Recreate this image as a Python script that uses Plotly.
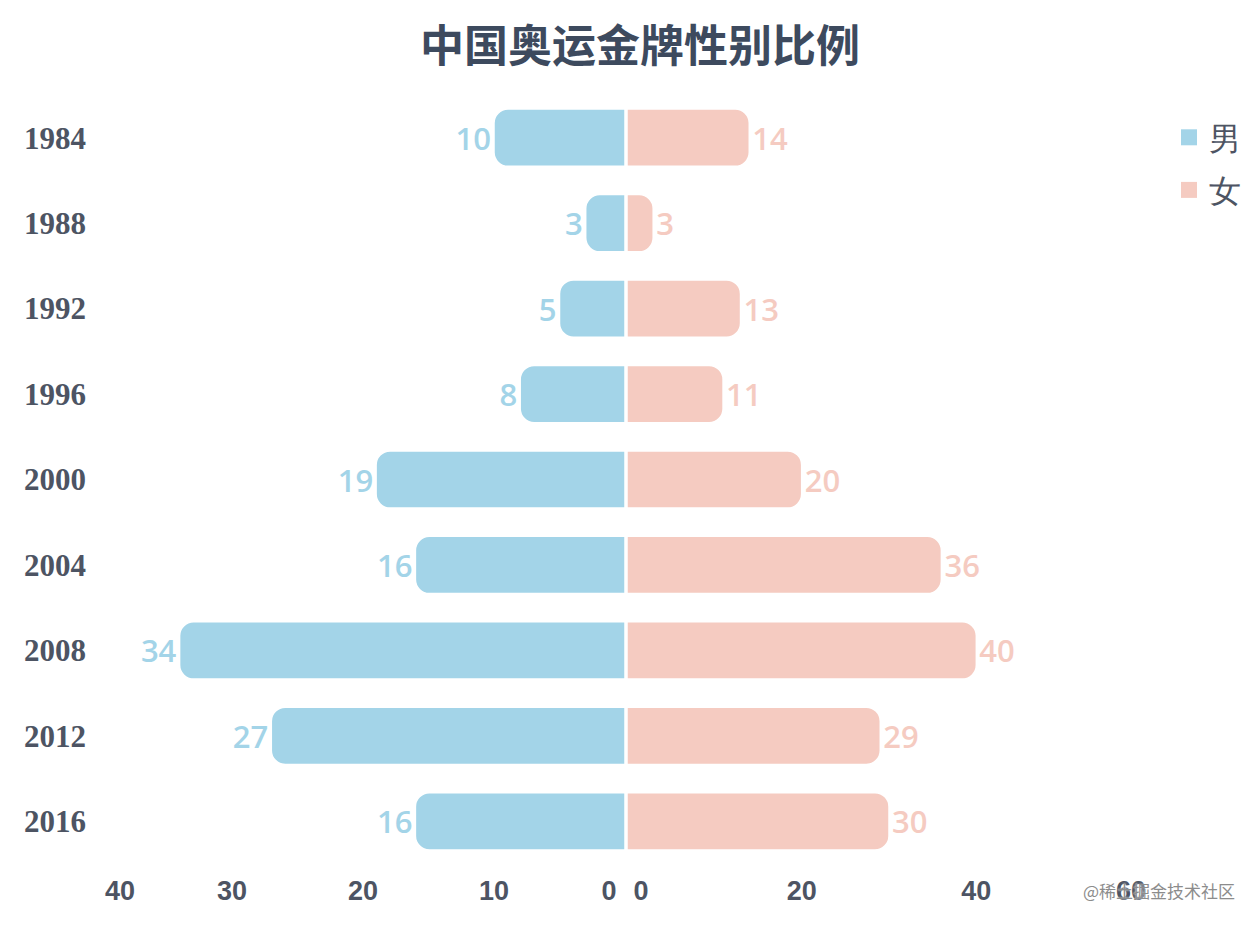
"""
China Olympic gold medals by gender, mirrored horizontal bars.
"""

import plotly.graph_objects as go

# Data
years = ["1984", "1988", "1992", "1996", "2000", "2004", "2008", "2012", "2016"]
male_gold = [10, 3, 5, 8, 19, 16, 34, 27, 16]
female_gold = [14, 3, 13, 11, 20, 36, 40, 29, 30]

left_ticks = [0, 10, 20, 30, 40]
right_ticks = [0, 20, 40, 60]

THEME = {
    "male": "#a3d4e8",
    "female": "#f5cbc1",
    "text": "#4d5463",
    "title": "#3d4a5e",
    "watermark": "#8c8c8c",
}

W, H = 1260, 928
OFF = 8  # page body margin, the figure is drawn 8px in from the corner


def px_x(px):
    return (px - OFF) / W


def px_y(px):
    return 1 - (px - OFF) / H


# plot-area boxes, in screen pixels
LEFT_DOM = [px_x(101), px_x(625)]
RIGHT_DOM = [px_x(627), px_x(1151)]
Y_DOM = [px_y(864), px_y(95)]


def nudge(ticks, span, lo_px, hi_px):
    """Pull the outer tick labels inward, like the original renderer does."""
    per_px = span / 524
    vals = list(ticks)
    vals[0] = ticks[0] + lo_px * per_px
    vals[-1] = ticks[-1] - hi_px * per_px
    return vals


bar_common = dict(
    orientation="h",
    textposition="outside",
    cliponaxis=False,
    width=0.67,
    marker_cornerradius=14,
    marker_line=dict(color="white", width=1.5),
    hoverinfo="skip",
    showlegend=False,
)

fig = go.Figure()

fig.add_trace(go.Bar(
    y=years, x=male_gold, text=male_gold, name="男",
    xaxis="x", yaxis="y",
    marker_color=THEME["male"],
    textfont=dict(family="Open Sans", size=31, color=THEME["male"], weight=600,
                  shadow="0px 0px 3px white"),
    **bar_common,
))
fig.add_trace(go.Bar(
    y=years, x=female_gold, text=female_gold, name="女",
    xaxis="x2", yaxis="y2",
    marker_color=THEME["female"],
    textfont=dict(family="Open Sans", size=31, color=THEME["female"], weight=600,
                  shadow="0px 0px 3px white"),
    **bar_common,
))

# legend swatches
for name, color in [("男", THEME["male"]), ("女", THEME["female"])]:
    fig.add_trace(go.Scatter(
        x=[None], y=[None], mode="markers", name=name, legendgroup=name,
        xaxis="x2", yaxis="y2",
        marker=dict(symbol="square", size=18, color=color),
    ))

tick_font = dict(family="Liberation Sans", size=27, color=THEME["text"], weight="bold")

fig.update_layout(
    width=W,
    height=H,
    paper_bgcolor="white",
    plot_bgcolor="white",
    margin=dict(l=0, r=0, t=0, b=0),
    xaxis=dict(
        domain=LEFT_DOM,
        range=[40, 0],
        tickvals=nudge(left_ticks, 40, 16, 19),
        ticktext=[str(t) for t in left_ticks],
        showgrid=False, zeroline=False, showline=False,
        tickfont=tick_font,
        ticklabelstandoff=8,
        fixedrange=True,
    ),
    xaxis2=dict(
        domain=RIGHT_DOM,
        range=[0, 60],
        tickvals=nudge(right_ticks, 60, 14, 20),
        ticktext=[str(t) for t in right_ticks],
        showgrid=False, zeroline=False, showline=False,
        tickfont=tick_font,
        ticklabelstandoff=8,
        fixedrange=True,
    ),
    yaxis=dict(
        domain=Y_DOM,
        anchor="x",
        autorange="reversed",
        showgrid=False, zeroline=False, showline=False,
        tickfont=dict(family="Liberation Serif", size=31, color=THEME["text"], weight="bold"),
        ticklabelstandoff=14,
        fixedrange=True,
    ),
    yaxis2=dict(
        domain=Y_DOM,
        anchor="x2",
        matches="y",
        showticklabels=False,
        showgrid=False, zeroline=False, showline=False,
        fixedrange=True,
    ),
    legend=dict(
        x=px_x(1246), xanchor="right",
        y=px_y(110), yanchor="top",
        font=dict(family="serif", size=32, color=THEME["text"]),
        traceorder="grouped",
        tracegroupgap=8,
        bgcolor="rgba(0,0,0,0)",
    ),
    annotations=[
        # chart title
        dict(
            text="<b>中国奥运金牌性别比例</b>",
            xref="paper", yref="paper",
            x=px_x(640), xanchor="center",
            y=px_y(43), yanchor="middle",
            showarrow=False,
            font=dict(family="Noto Sans CJK SC", size=44, color=THEME["title"]),
        ),
        # watermark
        dict(
            text="@稀土掘金技术社区",
            xref="paper", yref="paper",
            x=px_x(1237), xanchor="right",
            y=px_y(890), yanchor="middle",
            showarrow=False,
            font=dict(family="Noto Sans CJK SC", size=17, color=THEME["watermark"],
                      shadow="0px 0px 2px white"),
        ),
    ],
)

fig.write_html("out.html")
